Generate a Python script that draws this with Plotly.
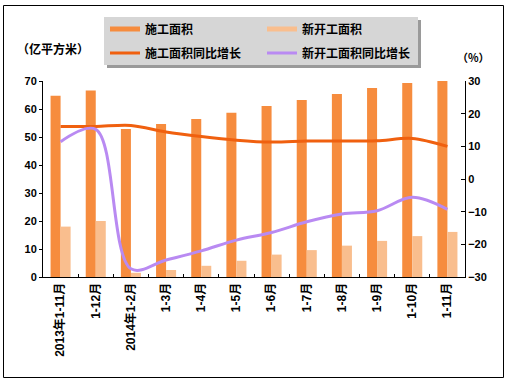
import plotly.graph_objects as go

categories = ["2013年1-11月", "1-12月", "2014年1-2月", "1-3月", "1-4月", "1-5月",
              "1-6月", "1-7月", "1-8月", "1-9月", "1-10月", "1-11月"]
construction_area = [64.7, 66.6, 52.9, 54.6, 56.4, 58.7, 61.1, 63.2, 65.4, 67.5, 69.3, 70.4]
new_start_area = [18.0, 20.0, 1.5, 2.5, 4.0, 5.8, 8.0, 9.6, 11.2, 12.9, 14.6, 16.1]
construction_yoy = [16.1, 16.1, 16.4, 14.4, 13.0, 11.9, 11.3, 11.6, 11.6, 11.7, 12.4, 10.0]
new_start_yoy = [11.4, 15.2, -27.5, -24.8, -22.0, -18.7, -16.4, -13.1, -10.7, -9.7, -5.6, -9.3]

left_ticks = [0, 10, 20, 30, 40, 50, 60, 70]
right_ticks = [-30, -20, -10, 0, 10, 20, 30]

C_BAR = "#F68C3E"
C_BAR2 = "#F9BE8E"
C_LINE = "#F0600F"
C_PURPLE = "#B98AF2"

FONT = "Liberation Sans, Noto Sans CJK SC, sans-serif"
CJK = "Noto Sans CJK SC, sans-serif"

W, H = 511, 381
L, R, T, B = 43, 46, 81, 104
PW = W - L - R
PH = H - T - B

def px(x):
    return (x - L) / PW

def py(y):
    return (H - B - y) / PH

fig = go.Figure()

fig.add_trace(go.Bar(x=categories, y=construction_area, name="施工面积",
                     marker=dict(color=C_BAR, line=dict(width=0)), showlegend=False))
fig.add_trace(go.Bar(x=categories, y=new_start_area, name="新开工面积",
                     marker=dict(color=C_BAR2, line=dict(width=0)), showlegend=False))
fig.add_trace(go.Scatter(x=categories, y=construction_yoy, name="施工面积同比增长",
                         yaxis="y2", mode="lines",
                         line=dict(color=C_LINE, width=3, shape="spline", smoothing=0.9),
                         showlegend=False))
fig.add_trace(go.Scatter(x=categories, y=new_start_yoy, name="新开工面积同比增长",
                         yaxis="y2", mode="lines",
                         line=dict(color=C_PURPLE, width=3, shape="spline", smoothing=1.0),
                         showlegend=False))

# legend entries (row 1: legend, row 2: legend2)
fig.add_trace(go.Scatter(x=[None], y=[None], name="施工面积", mode="lines",
                         line=dict(color=C_BAR, width=5), legend="legend"))
fig.add_trace(go.Scatter(x=[None], y=[None], name="新开工面积", mode="lines",
                         line=dict(color=C_BAR2, width=5), legend="legend"))
fig.add_trace(go.Scatter(x=[None], y=[None], name="施工面积同比增长", mode="lines",
                         line=dict(color=C_LINE, width=3), legend="legend2"))
fig.add_trace(go.Scatter(x=[None], y=[None], name="新开工面积同比增长", mode="lines",
                         line=dict(color=C_PURPLE, width=3), legend="legend2"))

legend_common = dict(orientation="h", bgcolor="rgba(0,0,0,0)", borderwidth=0,
                     font=dict(family=CJK, size=12, color="#000000", weight="bold"),
                     entrywidth=112, xanchor="left", yanchor="middle",
                     itemclick=False, itemdoubleclick=False)

fig.update_layout(
    width=W, height=H,
    margin=dict(l=L, r=R, t=T, b=B),
    paper_bgcolor="white", plot_bgcolor="white",
    barmode="group", bargap=0.43, bargroupgap=0,
    font=dict(family=FONT, size=11, color="#000000"),
    legend=dict(x=px(105), y=py(29), **legend_common),
    legend2=dict(x=px(105), y=py(53), **legend_common),
    xaxis=dict(type="category", showgrid=False, showline=True, linecolor="#000000",
               linewidth=1, ticks="inside", ticklen=3, tickcolor="#000000",
               tickson="boundaries", tickangle=-90,
               tickfont=dict(family=FONT, size=12, weight="bold"), zeroline=False),
    yaxis=dict(range=[0, 70], tickvals=left_ticks, showgrid=False, showline=True,
               linecolor="#000000", linewidth=1, ticks="outside", ticklen=3,
               tickcolor="#000000", zeroline=False,
               tickfont=dict(family=FONT, size=11, weight="bold")),
    yaxis2=dict(range=[-30, 30], tickvals=right_ticks, overlaying="y", side="right",
                showgrid=False, showline=True, linecolor="#000000", linewidth=1,
                ticks="inside", ticklen=4, tickcolor="#000000", zeroline=False,
                tickfont=dict(family=FONT, size=11, weight="bold")),
    shapes=[
        dict(type="rect", xref="paper", yref="paper", x0=px(3.5), x1=px(503.5), y0=py(377.5), y1=py(5.5),
             line=dict(color="#000000", width=1), fillcolor="rgba(0,0,0,0)", layer="above"),
        dict(type="rect", xref="paper", yref="paper", x0=px(107), x1=px(421), y0=py(68), y1=py(20),
             line=dict(width=0), fillcolor="#9a9a9a", layer="below"),
        dict(type="rect", xref="paper", yref="paper", x0=px(104), x1=px(418), y0=py(65), y1=py(17),
             line=dict(width=0), fillcolor="#D6D6D6", layer="below"),
    ],
    annotations=[
        dict(text="（亿平方米）", xref="paper", yref="paper", x=px(53), y=py(48),
             showarrow=False, xanchor="center", yanchor="middle",
             font=dict(family=CJK, size=12, weight="bold")),
        dict(text="（%）", xref="paper", yref="paper", x=px(473), y=py(57),
             showarrow=False, xanchor="center", yanchor="middle",
             font=dict(family=CJK, size=11, weight="bold")),
    ],
)

fig.write_html("out.html", config={"displayModeBar": False},
               post_script="document.body.style.margin='0';document.body.style.padding='0';")
